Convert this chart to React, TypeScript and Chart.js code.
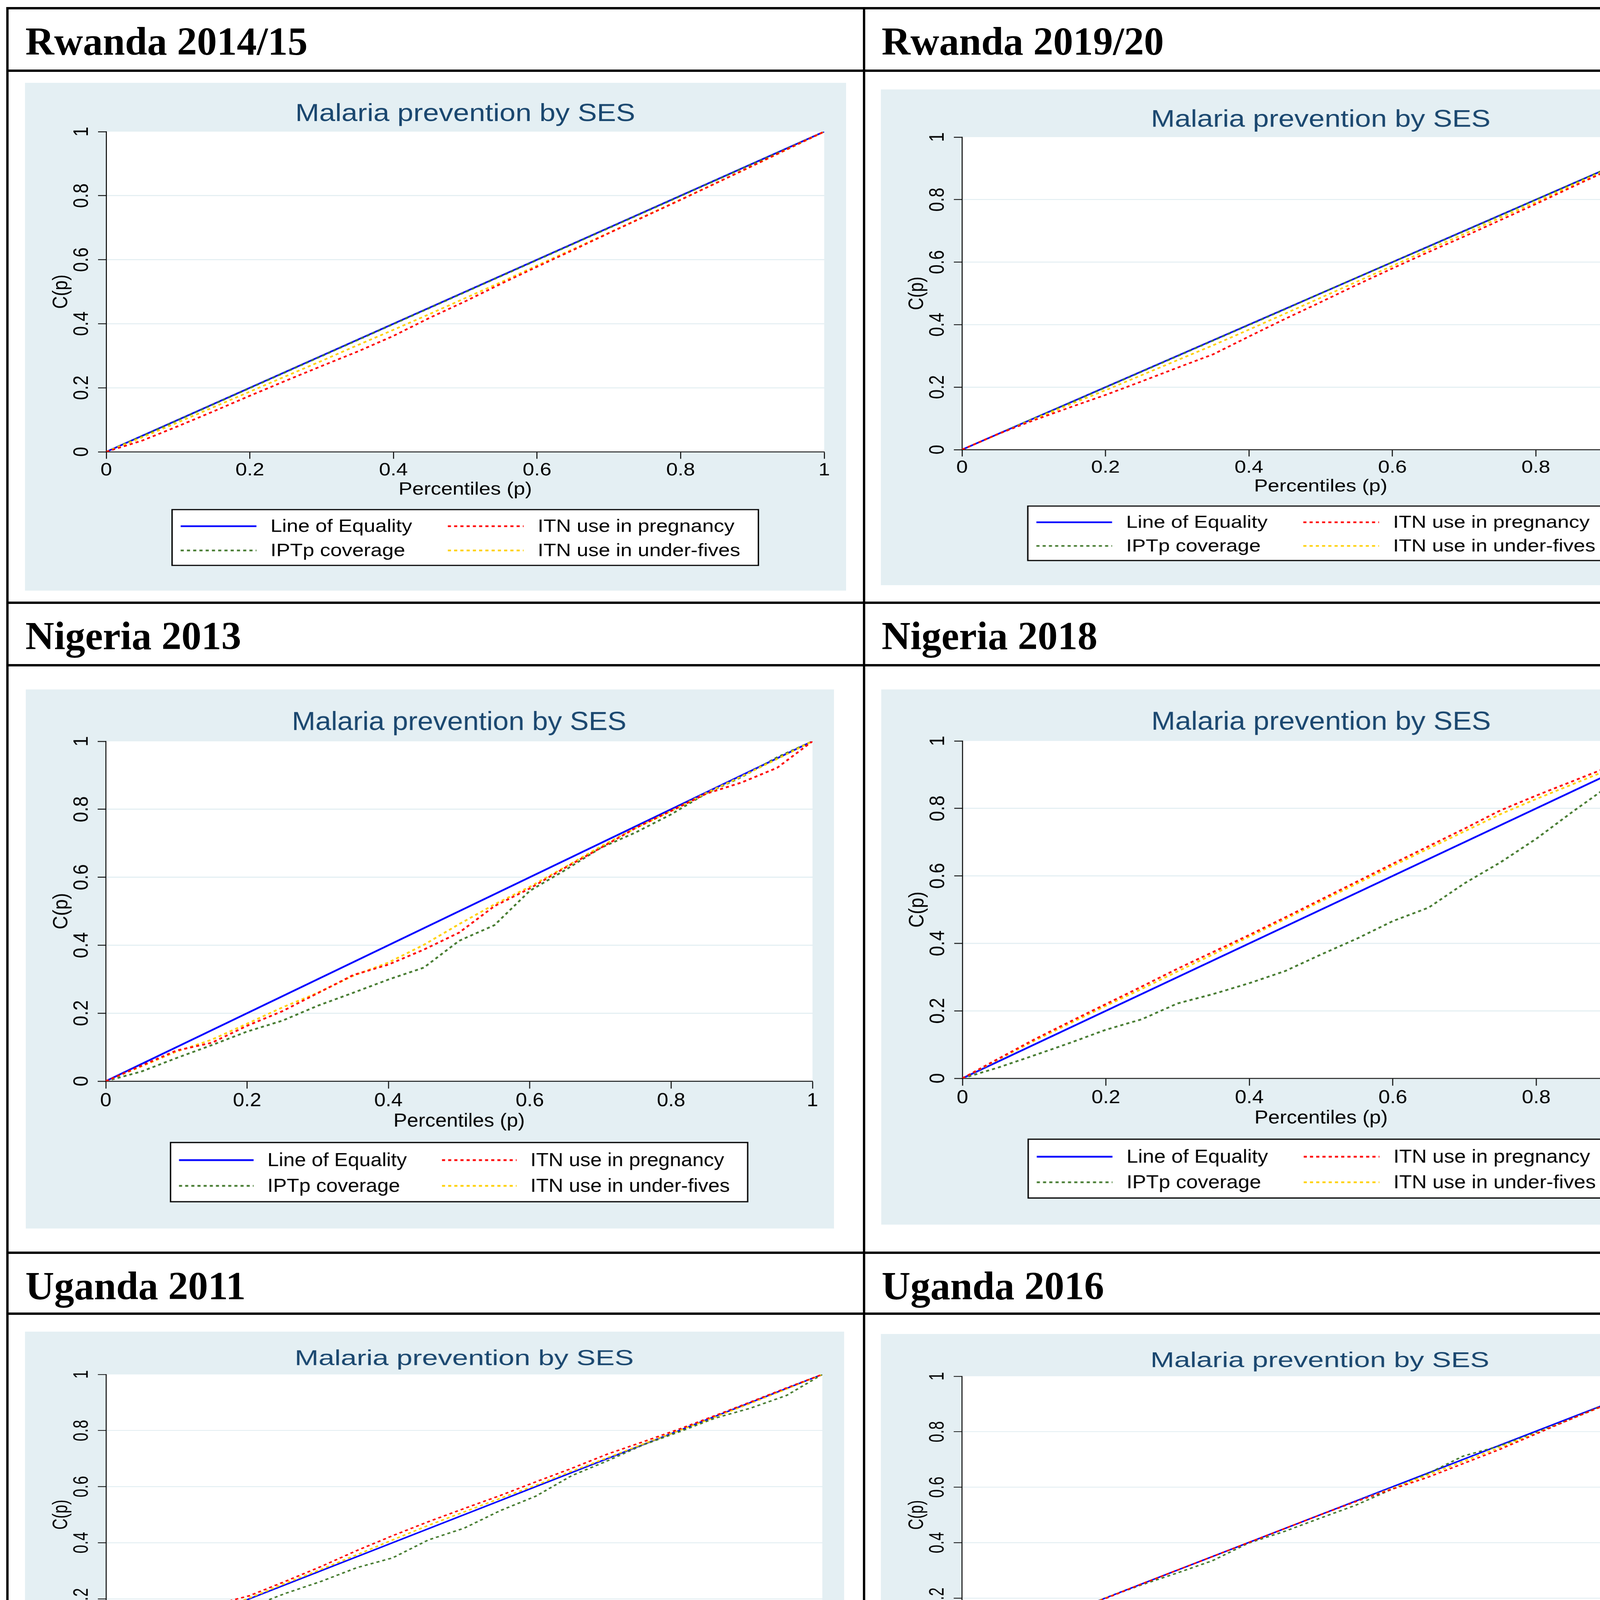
import React, { useEffect, useRef } from 'react';
import { Chart, registerables } from 'chart.js';

Chart.register(...registerables);
Chart.defaults.font.family = "'Liberation Sans', Arial, Helvetica, sans-serif";

// ---------------- data ----------------
const PERCENTILES = [0, 0.05, 0.1, 0.15, 0.2, 0.25, 0.3, 0.35, 0.4, 0.45, 0.5, 0.55, 0.6, 0.65, 0.7, 0.75, 0.8, 0.85, 0.9, 0.95, 1];
const EQUALITY_X = [0, 1];
const EQUALITY_Y = [0, 1];
const TICK_VALUES = [0, 0.2, 0.4, 0.6, 0.8, 1];
const TICK_LABELS = ['0', '0.2', '0.4', '0.6', '0.8', '1'];
const SERIES_NAMES = ['Line of Equality', 'IPTp coverage', 'ITN use in pregnancy', 'ITN use in under-fives'];
const CHART_TITLE = 'Malaria prevention by SES';
const X_TITLE = 'Percentiles (p)';
const Y_TITLE = 'C(p)';

const RW2014_IPTP = [0, 0.049, 0.099, 0.149, 0.199, 0.249, 0.299, 0.349, 0.399, 0.449, 0.499, 0.549, 0.599, 0.649, 0.699, 0.749, 0.799, 0.849, 0.899, 0.949, 1];
const RW2014_PREG = [0, 0.035, 0.08, 0.127, 0.175, 0.222, 0.268, 0.313, 0.362, 0.418, 0.47, 0.525, 0.578, 0.63, 0.683, 0.735, 0.787, 0.84, 0.893, 0.947, 1];
const RW2014_U5 = [0, 0.045, 0.092, 0.14, 0.188, 0.236, 0.284, 0.333, 0.381, 0.43, 0.48, 0.53, 0.582, 0.633, 0.684, 0.736, 0.788, 0.84, 0.893, 0.946, 1];

const RW2019_IPTP = [0, 0.05, 0.1, 0.149, 0.199, 0.249, 0.299, 0.349, 0.399, 0.449, 0.5, 0.55, 0.6, 0.649, 0.699, 0.749, 0.8, 0.85, 0.9, 0.95, 1];
const RW2019_PREG = [0, 0.05, 0.094, 0.135, 0.175, 0.218, 0.262, 0.305, 0.362, 0.418, 0.472, 0.527, 0.58, 0.632, 0.682, 0.734, 0.786, 0.84, 0.893, 0.946, 1];
const RW2019_U5 = [0, 0.049, 0.097, 0.144, 0.19, 0.238, 0.286, 0.334, 0.384, 0.435, 0.486, 0.537, 0.588, 0.64, 0.69, 0.742, 0.792, 0.845, 0.896, 0.948, 1];

const NG2013_IPTP = [0, 0.028, 0.068, 0.106, 0.146, 0.178, 0.222, 0.26, 0.299, 0.334, 0.413, 0.459, 0.56, 0.621, 0.686, 0.732, 0.785, 0.847, 0.895, 0.953, 1];
const NG2013_PREG = [0, 0.045, 0.09, 0.113, 0.163, 0.206, 0.259, 0.312, 0.343, 0.387, 0.437, 0.515, 0.567, 0.628, 0.686, 0.745, 0.795, 0.846, 0.879, 0.922, 1];
const NG2013_U5 = [0, 0.043, 0.087, 0.122, 0.169, 0.217, 0.26, 0.31, 0.349, 0.401, 0.462, 0.52, 0.572, 0.63, 0.69, 0.745, 0.795, 0.848, 0.897, 0.948, 1];

const NG2018_IPTP = [0, 0.032, 0.068, 0.105, 0.144, 0.175, 0.222, 0.25, 0.282, 0.318, 0.367, 0.414, 0.466, 0.506, 0.578, 0.64, 0.71, 0.789, 0.865, 0.931, 1];
const NG2018_PREG = [0, 0.058, 0.115, 0.168, 0.22, 0.272, 0.325, 0.375, 0.425, 0.477, 0.53, 0.583, 0.636, 0.688, 0.74, 0.794, 0.838, 0.88, 0.922, 0.962, 1];
const NG2018_U5 = [0, 0.056, 0.111, 0.163, 0.215, 0.265, 0.317, 0.368, 0.42, 0.472, 0.525, 0.577, 0.63, 0.681, 0.732, 0.783, 0.828, 0.871, 0.914, 0.957, 1];

const UG2011_IPTP = [0, 0.026, 0.087, 0.113, 0.17, 0.219, 0.262, 0.311, 0.346, 0.41, 0.452, 0.514, 0.566, 0.639, 0.692, 0.749, 0.795, 0.844, 0.88, 0.925, 1];
const UG2011_PREG = [0, 0.06, 0.125, 0.178, 0.211, 0.262, 0.315, 0.372, 0.425, 0.475, 0.522, 0.568, 0.617, 0.665, 0.716, 0.76, 0.805, 0.853, 0.902, 0.952, 1];
const UG2011_U5 = [0, 0.052, 0.102, 0.152, 0.203, 0.255, 0.305, 0.357, 0.41, 0.462, 0.51, 0.558, 0.605, 0.655, 0.703, 0.752, 0.8, 0.848, 0.897, 0.948, 1];

const UG2016_IPTP = [0, 0.048, 0.1, 0.15, 0.2, 0.247, 0.29, 0.335, 0.398, 0.44, 0.488, 0.535, 0.592, 0.648, 0.712, 0.748, 0.795, 0.845, 0.9, 0.95, 1];
const UG2016_PREG = [0, 0.049, 0.1, 0.15, 0.198, 0.25, 0.3, 0.35, 0.4, 0.45, 0.5, 0.548, 0.592, 0.635, 0.685, 0.735, 0.79, 0.845, 0.898, 0.95, 1];
const UG2016_U5 = [0, 0.05, 0.1, 0.15, 0.2, 0.25, 0.3, 0.35, 0.4, 0.45, 0.5, 0.548, 0.595, 0.643, 0.693, 0.742, 0.792, 0.845, 0.897, 0.948, 1];

const HEADERS = ['Rwanda 2014/15', 'Rwanda 2019/20', 'Nigeria 2013', 'Nigeria 2018', 'Uganda 2011', 'Uganda 2016'];

// ---------------- styles ----------------
const COLORS = ['#0000ff', '#447a2e', '#ff0000', '#ffd000'];
const BG = '#e4eff3';
const GRID = '#e2eef2';
const TITLE_COLOR = '#1a476f';
const BASE_W = 2102;
const BASE_H = 1529;
const FS = 53;

type PanelDef = { header: string; hx: number; hy: number; box: [number, number, number, number]; iptp: number[]; preg: number[]; u5: number[] };

const PANELS: PanelDef[] = [
  { header: HEADERS[0], hx: 65, hy: 55, box: [64, 212, 2102, 1300], iptp: RW2014_IPTP, preg: RW2014_PREG, u5: RW2014_U5 },
  { header: HEADERS[1], hx: 2257, hy: 55, box: [2255, 229, 2100, 1269], iptp: RW2019_IPTP, preg: RW2019_PREG, u5: RW2019_U5 },
  { header: HEADERS[2], hx: 65, hy: 1577, box: [66, 1765, 2069, 1380], iptp: NG2013_IPTP, preg: NG2013_PREG, u5: NG2013_U5 },
  { header: HEADERS[3], hx: 2257, hy: 1577, box: [2256, 1765, 2100, 1370], iptp: NG2018_IPTP, preg: NG2018_PREG, u5: NG2018_U5 },
  { header: HEADERS[4], hx: 65, hy: 3241, box: [64, 3409, 2097, 1139], iptp: UG2011_IPTP, preg: UG2011_PREG, u5: UG2011_U5 },
  { header: HEADERS[5], hx: 2257, hy: 3241, box: [2255, 3415, 2096, 1126], iptp: UG2016_IPTP, preg: UG2016_PREG, u5: UG2016_U5 },
];

const stataPlugin = {
  id: 'stataDecor',
  beforeDraw(chart: any) {
    const { ctx, chartArea: ca } = chart;
    ctx.save();
    ctx.fillStyle = BG;
    ctx.fillRect(0, 0, chart.width, chart.height);
    ctx.fillStyle = '#ffffff';
    ctx.fillRect(ca.left, ca.top, ca.right - ca.left, ca.bottom - ca.top);
    ctx.restore();
  },
  afterDraw(chart: any) {
    const { ctx, chartArea: ca } = chart;
    const cx = (ca.left + ca.right) / 2;
    ctx.save();
    // title
    ctx.font = `73.5px 'Liberation Sans', Arial, sans-serif`;
    ctx.fillStyle = TITLE_COLOR;
    ctx.textAlign = 'center';
    ctx.textBaseline = 'middle';
    ctx.fillText(CHART_TITLE, cx, 95);
    // legend
    const bw = 1501;
    const bh = 168;
    const bx = cx - bw / 2;
    const by = ca.bottom + 174;
    ctx.fillStyle = '#ffffff';
    ctx.fillRect(bx, by, bw, bh);
    ctx.lineWidth = 3.5;
    ctx.strokeStyle = '#000';
    ctx.strokeRect(bx, by, bw, bh);
    chart.data.datasets.forEach((ds: any, i: number) => {
      const col = Math.floor(i / 2);
      const row = i % 2;
      const sx0 = bx + (col ? 706 : 22);
      const tx = bx + (col ? 936 : 252);
      const y = by + (row ? 123 : 50);
      ctx.setLineDash(ds.borderDash || []);
      ctx.strokeStyle = ds.borderColor;
      ctx.lineWidth = ds.borderWidth;
      ctx.lineCap = 'butt';
      ctx.beginPath();
      ctx.moveTo(sx0, y);
      ctx.lineTo(sx0 + 194, y);
      ctx.stroke();
      ctx.setLineDash([]);
      ctx.fillStyle = '#000';
      ctx.font = `${FS}px 'Liberation Sans', Arial, sans-serif`;
      ctx.textAlign = 'left';
      ctx.textBaseline = 'middle';
      ctx.fillText(ds.label, tx, y + 2);
    });
    ctx.restore();
  },
};

function pts(xs: number[], ys: number[]) {
  return xs.map((x, i) => ({ x, y: ys[i] }));
}

function buildConfig(p: PanelDef): any {
  const series = [EQUALITY_Y, p.iptp, p.preg, p.u5];
  const datasets = series.map((ys, i) => ({
    label: SERIES_NAMES[i],
    data: i === 0 ? pts(EQUALITY_X, ys) : pts(PERCENTILES, ys),
    borderColor: COLORS[i],
    backgroundColor: COLORS[i],
    borderWidth: 5,
    borderDash: i === 0 ? [] : [8, 8],
    borderCapStyle: 'butt',
    pointRadius: 0,
    tension: 0,
    fill: false,
    order: [4, 3, 1, 2][i],
  }));
  const tickFont = { size: FS, lineHeight: 1 };
  return {
    type: 'line',
    data: { datasets },
    plugins: [stataPlugin],
    options: {
      responsive: false,
      devicePixelRatio: 1,
      animation: false,
      layout: { padding: { left: 66.5, right: 56, top: 147, bottom: 277 } },
      plugins: { legend: { display: false }, tooltip: { enabled: false }, title: { display: false } },
      scales: {
        x: {
          type: 'linear',
          min: 0,
          max: 1,
          afterBuildTicks: (axis: any) => { axis.ticks = TICK_VALUES.map((value) => ({ value })); },
          afterFit: (s: any) => { s.height = 141; s.paddingLeft = 0; s.paddingRight = 0; },
          ticks: { callback: (_v: any, i: number) => TICK_LABELS[i], font: tickFont, color: '#000', padding: 8.5, maxRotation: 0, minRotation: 0, autoSkip: false },
          grid: { display: true, drawOnChartArea: false, tickLength: 21, tickColor: '#000', tickWidth: 2.5 },
          border: { display: true, color: '#000', width: 2.5 },
          title: { display: true, text: X_TITLE, font: { size: FS, lineHeight: 1 }, padding: 0, color: '#000' },
        },
        y: {
          type: 'linear',
          min: 0,
          max: 1,
          afterBuildTicks: (axis: any) => { axis.ticks = TICK_VALUES.map((value) => ({ value })); },
          afterFit: (s: any) => { s.width = 141.5; s.paddingTop = 0; s.paddingBottom = 0; },
          ticks: { callback: (_v: any, i: number) => TICK_LABELS[i], font: tickFont, color: '#000', padding: 4, minRotation: 90, maxRotation: 90, crossAlign: 'center', autoSkip: false },
          grid: {
            display: true,
            drawOnChartArea: true,
            color: (c: any) => (c.tick && c.tick.value > 0.001 && c.tick.value < 0.999 ? GRID : 'rgba(0,0,0,0)'),
            lineWidth: 3,
            tickLength: 21,
            tickColor: '#000',
            tickWidth: 2.5,
          },
          border: { display: true, color: '#000', width: 2.5 },
          title: { display: true, text: Y_TITLE, font: { size: FS, lineHeight: 1 }, padding: 0, color: '#000' },
        },
      },
    },
  };
}

function Panel({ def }: { def: PanelDef }) {
  const ref = useRef<HTMLCanvasElement>(null);
  useEffect(() => {
    const chart = new Chart(ref.current as HTMLCanvasElement, buildConfig(def));
    return () => chart.destroy();
  }, [def]);
  const [left, top, w, h] = def.box;
  return (
    <div style={{ position: 'absolute', left, top, width: w, height: h, overflow: 'hidden' }}>
      <canvas
        ref={ref}
        width={BASE_W}
        height={BASE_H}
        style={{
          position: 'absolute',
          left: 0,
          top: 0,
          width: BASE_W,
          height: BASE_H,
          transformOrigin: '0 0',
          transform: `scale(${w / BASE_W}, ${h / BASE_H})`,
        }}
      />
    </div>
  );
}

const LINE = 6;
const H_LINES = [18, 178, 1540, 1700, 3204, 3360, 4591];
const V_LINES = [16, 2209, 4421];

export default function App() {
  const top = H_LINES[0];
  const bottom = H_LINES[H_LINES.length - 1] + LINE;
  const leftX = V_LINES[0];
  const rightX = V_LINES[V_LINES.length - 1] + LINE;
  return (
    <div style={{ position: 'absolute', left: 0, top: 0, width: 4448, height: 4622, background: '#fff', overflow: 'hidden' }}>
      {PANELS.map((p, i) => (
        <div
          key={'h' + i}
          style={{
            position: 'absolute',
            left: p.hx,
            top: p.hy,
            fontFamily: "'Liberation Serif', 'Times New Roman', serif",
            fontWeight: 'bold',
            fontSize: 102,
            lineHeight: '102px',
            whiteSpace: 'nowrap',
            color: '#000',
          }}
        >
          {p.header}
        </div>
      ))}
      {PANELS.map((p, i) => (
        <Panel key={'p' + i} def={p} />
      ))}
      {H_LINES.map((y, i) => (
        <div key={'hl' + i} style={{ position: 'absolute', left: leftX, top: y, width: rightX - leftX, height: LINE, background: '#000' }} />
      ))}
      {V_LINES.map((x, i) => (
        <div key={'vl' + i} style={{ position: 'absolute', left: x, top, width: LINE, height: bottom - top, background: '#000' }} />
      ))}
    </div>
  );
}
